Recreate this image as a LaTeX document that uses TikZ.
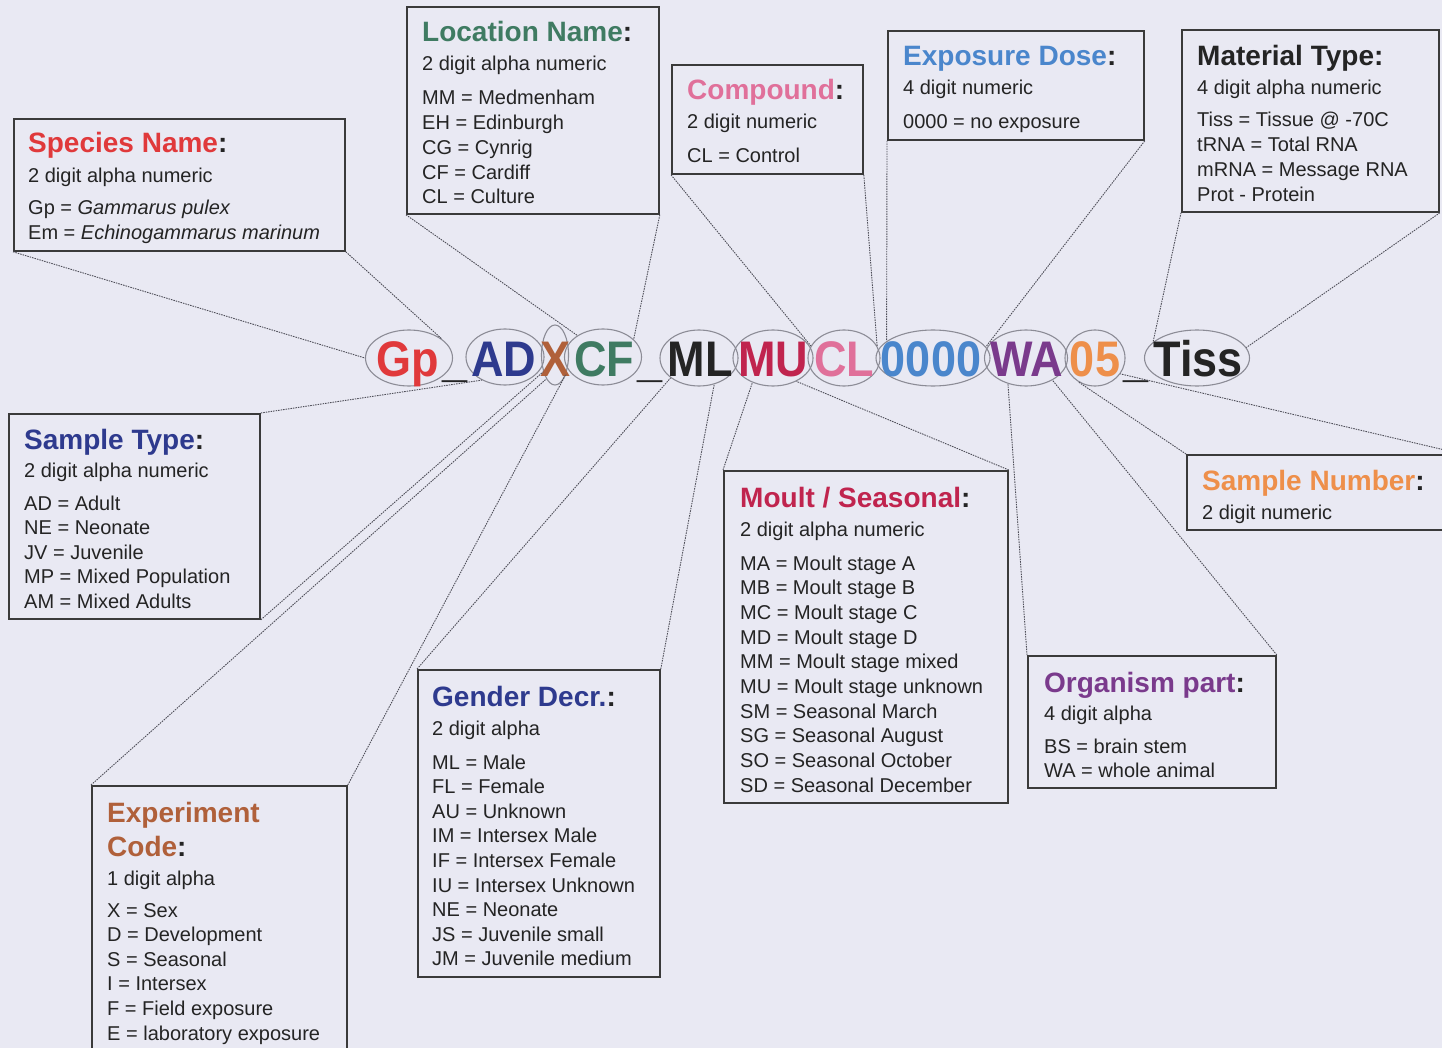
\documentclass[tikz,border=0pt]{standalone}
\usepackage{fontspec}
\setmainfont{Liberation Sans}
\usepackage{graphicx}
\usetikzlibrary{shapes.geometric}

% palette
\definecolor{bg}{HTML}{E9E9F3}
\definecolor{frame}{HTML}{3A3A3A}
\definecolor{ink}{HTML}{242424}
\definecolor{ring}{HTML}{8C8C96}
\definecolor{linkc}{HTML}{4E4E58}
\definecolor{cRed}{HTML}{E0393B}
\definecolor{cNavy}{HTML}{2E3A8E}
\definecolor{cBrown}{HTML}{B0603A}
\definecolor{cGreen}{HTML}{3F7B62}
\definecolor{cCrimson}{HTML}{C0244E}
\definecolor{cPink}{HTML}{E0709A}
\definecolor{cBlue}{HTML}{4A86CC}
\definecolor{cPurple}{HTML}{7A3A8C}
\definecolor{cOrange}{HTML}{EE8F4A}

\newcommand\codetxt[1]{\scalebox{0.9}[1]{#1}}

\tikzset{
  infobox/.style={draw=frame, line width=1.8pt, anchor=north west, inner sep=0pt},
  boxtitle/.style={anchor=base west, inner sep=0pt, text=ink,
    font=\fontsize{28}{34}\selectfont\bfseries},
  body/.style={anchor=base west, inner sep=0pt, text=ink,
    font=\fontsize{20}{24}\selectfont},
  seg/.style={draw=ring, line width=1.1pt, ellipse, inner sep=0pt,
    minimum height=56pt},
  code/.style={anchor=base, inner sep=0pt,
    font=\fontsize{50}{56}\selectfont\bfseries},
  link/.style={draw=linkc, line width=0.9pt, dash pattern=on 1.5pt off 1pt},
}

\begin{document}
\begin{tikzpicture}[x=1pt, y=-1pt]
\useasboundingbox (0,0) rectangle (1442,1048);
\fill[bg] (0,0) rectangle (1442,1048);
\clip (0,0) rectangle (1442,1048);

% ---- ellipses around each code segment
\node[seg, minimum width=87pt] (gp)   at (409,358) {};
\node[seg, minimum width=78pt] (ad)   at (505,357) {};
\node[seg, minimum width=27pt, minimum height=60pt] (xx) at (555,355) {};
\node[seg, minimum width=77pt] (cf)   at (603,357) {};
\node[seg, minimum width=78pt] (ml)   at (699,358) {};
\node[seg, minimum width=80pt] (mu)   at (773,358) {};
\node[seg, minimum width=72pt] (cl)   at (844,358) {};
\node[seg, minimum width=114pt] (zero) at (933,358) {};
\node[seg, minimum width=83pt] (wa)   at (1026,358) {};
\node[seg, minimum width=60pt] (n05)  at (1095,358) {};
\node[seg, minimum width=105pt] (tiss) at (1197,358) {};

% ---- code string
\node[code, text=cRed]     (gpT)   at (408,376)  {\codetxt{Gp}};
\node[code, text=ink]      (us1)   at (455,376)  {\codetxt{\textunderscore}};
\node[code, text=cNavy]    (adT)   at (504,376)  {\codetxt{AD}};
\node[code, text=cBrown]   (xxT)   at (555,376)  {\codetxt{X}};
\node[code, text=cGreen]   (cfT)   at (604,376)  {\codetxt{CF}};
\node[code, text=ink]      (us2)   at (650,376)  {\codetxt{\textunderscore}};
\node[code, text=ink]      (mlT)   at (700,376)  {\codetxt{ML}};
\node[code, text=cCrimson] (muT)   at (773,376)  {\codetxt{MU}};
\node[code, text=cPink]    (clT)   at (844,376)  {\codetxt{CL}};
\node[code, text=cBlue]    (zeroT) at (931,376)  {\codetxt{0000}};
\node[code, text=cPurple]  (waT)   at (1027,376) {\codetxt{WA}};
\node[code, text=cOrange]  (n05T)  at (1095,376) {\codetxt{05}};
\node[code, text=ink]      (us3)   at (1136,376) {\codetxt{\textunderscore}};
\node[code, text=ink]      (tissT) at (1198,376) {\codetxt{Tiss}};

% ---- description boxes
\node[infobox, minimum width=331pt, minimum height=132pt] (species)    at (13,118)  {};
\node[infobox, minimum width=252pt, minimum height=207pt] (location)   at (406,6)   {};
\node[infobox, minimum width=191pt, minimum height=109pt] (compound)   at (671,64)  {};
\node[infobox, minimum width=256pt, minimum height=109pt] (exposure)   at (887,30)  {};
\node[infobox, minimum width=257pt, minimum height=182pt] (material)   at (1181,29) {};
\node[infobox, minimum width=251pt, minimum height=205pt] (sampletype) at (8,413)   {};
\node[infobox, minimum width=284pt, minimum height=332pt] (moult)      at (723,470) {};
\node[infobox, minimum width=248pt, minimum height=132pt] (organism)   at (1027,655){};
\node[infobox, minimum width=274pt, minimum height=75pt]  (samplenum)  at (1186,454){};
\node[infobox, minimum width=242pt, minimum height=307pt] (gender)     at (417,669) {};
\node[infobox, minimum width=255pt, minimum height=285pt] (experiment) at (91,785)  {};

% ---- connectors from box corners to the segments
\draw[link] (species.south west)    -- (gp.180);
\draw[link] (species.south east)    -- (gp.30);
\draw[link] (location.south west)   -- (cf.140);
\draw[link] (location.south east)   -- (cf.30);
\draw[link] (compound.south west)   -- (cl.160);
\draw[link] (compound.south east)   -- (cl.20);
\draw[link] (exposure.south west)   -- (zero.160);
\draw[link] (exposure.south east)   -- (zero.12);
\draw[link] (material.south west)   -- (tiss.160);
\draw[link] (material.south east)   -- (tiss.12);
\draw[link] (sampletype.north east) -- (ad.225);
\draw[link] (sampletype.south east) -- (xx.235);
\draw[link] (experiment.north west) -- (xx.250);
\draw[link] (experiment.north east) -- (xx.300);
\draw[link] (gender.north west)     -- (ml.215);
\draw[link] (gender.north east)     -- (ml.300);
\draw[link] (moult.north west)      -- (mu.230);
\draw[link] (moult.north east)      -- (mu.315);
\draw[link] (organism.north west)   -- (wa.235);
\draw[link] (organism.north east)   -- (wa.320);
\draw[link] (samplenum.north west)  -- (n05.235);
\draw[link] (samplenum.north east)  -- (n05.328);

% ---- Species Name
\node[boxtitle] (speciesH) at (28,153) {\textcolor{cRed}{Species Name}:};
\node[body] (speciesS) at (28,183) {2 digit alpha numeric};
\foreach \t [count=\i from 0] in {{Gp = \textit{Gammarus pulex}},{Em = \textit{Echinogammarus marinum}}}
  \node[body] (species-\i) at (28,{215+25*\i}) {\t};

% ---- Location Name
\node[boxtitle] (locationH) at (422,42) {\textcolor{cGreen}{Location Name}:};
\node[body] (locationS) at (422,71) {2 digit alpha numeric};
\foreach \t [count=\i from 0] in {MM = Medmenham, EH = Edinburgh, CG = Cynrig, CF = Cardiff, CL = Culture}
  \node[body] (location-\i) at (422,{105+24.75*\i}) {\t};

% ---- Compound
\node[boxtitle] (compoundH) at (687,100) {\textcolor{cPink}{Compound}:};
\node[body] (compoundS) at (687,129) {2 digit numeric};
\node[body] (compound-0) at (687,163) {CL = Control};

% ---- Exposure Dose
\node[boxtitle] (exposureH) at (903,66) {\textcolor{cBlue}{Exposure Dose}:};
\node[body] (exposureS) at (903,95) {4 digit numeric};
\node[body] (exposure-0) at (903,129) {0000 = no exposure};

% ---- Material Type
\node[boxtitle] (materialH) at (1197,66) {Material Type:};
\node[body] (materialS) at (1197,95) {4 digit alpha numeric};
\foreach \t [count=\i from 0] in {Tiss = Tissue @ -70C, tRNA = Total RNA, mRNA = Message RNA, Prot - Protein}
  \node[body] (material-\i) at (1197,{127+24.7*\i}) {\t};

% ---- Sample Type
\node[boxtitle] (sampletypeH) at (24,449) {\textcolor{cNavy}{Sample Type}:};
\node[body] (sampletypeS) at (24,477) {2 digit alpha numeric};
\foreach \t [count=\i from 0] in {AD = Adult, NE = Neonate, JV = Juvenile, MP = Mixed Population, AM = Mixed Adults}
  \node[body] (sampletype-\i) at (24,{510+24.6*\i}) {\t};

% ---- Moult / Seasonal
\node[boxtitle] (moultH) at (740,507) {\textcolor{cCrimson}{Moult / Seasonal}:};
\node[body] (moultS) at (740,536) {2 digit alpha numeric};
\foreach \t [count=\i from 0] in {MA = Moult stage A, MB = Moult stage B, MC = Moult stage C, MD = Moult stage D, MM = Moult stage mixed, MU = Moult stage unknown, SM = Seasonal March, SG = Seasonal August, SO = Seasonal October, SD = Seasonal December}
  \node[body] (moult-\i) at (740,{570+24.7*\i}) {\t};

% ---- Organism part
\node[boxtitle] (organismH) at (1044,692) {\textcolor{cPurple}{Organism part}:};
\node[body] (organismS) at (1044,720) {4 digit alpha};
\node[body] (organism-0) at (1044,753) {BS = brain stem};
\node[body] (organism-1) at (1044,777) {WA = whole animal};

% ---- Sample Number
\node[boxtitle] (samplenumH) at (1202,490) {\textcolor{cOrange}{Sample Number}:};
\node[body] (samplenumS) at (1202,519) {2 digit numeric};

% ---- Gender Decr.
\node[boxtitle] (genderH) at (432,706) {\textcolor{cNavy}{Gender Decr.}:};
\node[body] (genderS) at (432,735) {2 digit alpha};
\foreach \t [count=\i from 0] in {ML = Male, FL = Female, AU = Unknown, IM = Intersex Male, IF = Intersex Female, IU = Intersex Unknown, NE = Neonate, JS = Juvenile small, JM = Juvenile medium}
  \node[body] (gender-\i) at (432,{769+24.6*\i}) {\t};

% ---- Experiment Code
\node[boxtitle] (experimentH) at (107,822) {\textcolor{cBrown}{Experiment}};
\node[boxtitle] (experimentH2) at (107,856) {\textcolor{cBrown}{Code}:};
\node[body] (experimentS) at (107,885) {1 digit alpha};
\foreach \t [count=\i from 0] in {X = Sex, D = Development, S = Seasonal, I = Intersex, F = Field exposure, E = laboratory exposure}
  \node[body] (experiment-\i) at (107,{917+24.6*\i}) {\t};
\end{tikzpicture}
\end{document}
